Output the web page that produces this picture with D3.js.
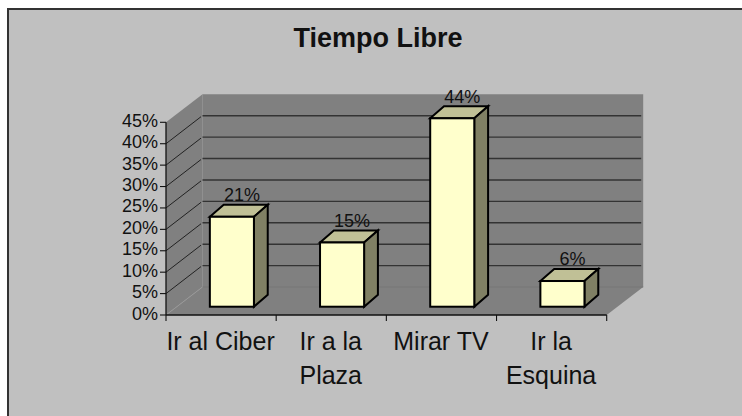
<!DOCTYPE html>
<html><head><meta charset="utf-8">
<script src="https://cdn.jsdelivr.net/npm/d3@7"></script>
<style>html,body{margin:0;padding:0;background:#fff}svg{display:block}text{font-family:"Liberation Sans",Arial,sans-serif;fill:#111}</style>
</head><body><svg id="c" width="742" height="416"></svg>
<script>
const categories=[["Ir al Ciber"],["Ir a la","Plaza"],["Mirar TV"],["Ir la","Esquina"]];
const values=[21,15,44,6];
const valueLabels=["21%","15%","44%","6%"];
const yTicks=[0,5,10,15,20,25,30,35,40,45];
const title="Tiempo Libre";

const svg=d3.select("#c");
const x0=166,x1=606.7,yB=315,yT=122.3,dx=36.5,dy=-28;
const y=d3.scaleLinear().domain([0,45]).range([yB,yT]);
const x=d3.scaleBand().domain(d3.range(categories.length)).range([x0,x1]).paddingInner(0).paddingOuter(0);
const line=d3.line();
const dark="#111",grid="#333";

svg.append("rect").attr("x",8).attr("y",9).attr("width",734).attr("height",407).attr("fill","#c0c0c0");
svg.append("path").attr("d",line([[8,416],[8,9],[742,9]])).attr("fill","none").attr("stroke","#333").attr("stroke-width",2);
svg.append("text").attr("x",378).attr("y",46.5).attr("text-anchor","middle")
  .style("font-size","27px").style("font-weight","bold").text(title);

// walls and floor
svg.append("path").attr("d",line([[x0,yB],[x0,yT],[x0+dx,yT+dy],[x0+dx,yB+dy]])+"Z").attr("fill","#808080");
svg.append("path").attr("d",line([[x0+dx,yT+dy],[x1+dx,yT+dy],[x1+dx,yB+dy],[x0+dx,yB+dy]])+"Z").attr("fill","#808080");
svg.append("path").attr("d",line([[x0,yB],[x0+dx,yB+dy],[x1+dx,yB+dy],[x1,yB]])+"Z").attr("fill","#808080");
svg.append("path").attr("d",line([[x0+dx,yB+dy],[x1+dx,yB+dy]])).attr("fill","none").attr("stroke","#777").attr("stroke-width",1);
svg.append("path").attr("d",line([[x0,yB],[x0+dx,yB+dy]])).attr("fill","none").attr("stroke","#999").attr("stroke-width",1);

// gridlines
yTicks.slice(1,-1).forEach(t=>{
  const yy=y(t);
  svg.append("path").attr("d",line([[x0,yy],[x0+dx-1.5,yy+dy+1]]))
    .attr("fill","none").attr("stroke","#222").attr("stroke-width",1);
  svg.append("path").attr("d",line([[x0+dx,yy+dy],[x1+dx-2,yy+dy]]))
    .attr("fill","none").attr("stroke",grid).attr("stroke-width",1.4);
});

// axes
const axL=svg.append("g").attr("transform",`translate(${x0},0)`);
axL.append("path").attr("d",line([[0,yT],[0,yB]])).attr("stroke",dark).attr("stroke-width",1.3).attr("fill","none");
yTicks.forEach(t=>{
  axL.append("path").attr("d",line([[-6,y(t)],[0,y(t)]])).attr("stroke",dark).attr("stroke-width",1.1);
  axL.append("text").attr("x",-8).attr("y",y(t)+4.5).attr("text-anchor","end").style("font-size","18px").text(t+"%");
});
svg.append("path").attr("d",line([[x0,yB],[x1,yB]])).attr("stroke",dark).attr("stroke-width",1.3);
d3.range(categories.length+1).forEach(i=>{
  const xx=x0+x.step()*i;
  svg.append("path").attr("d",line([[xx,yB],[xx,yB+6]])).attr("stroke",dark).attr("stroke-width",1.1);
});
categories.forEach((c,i)=>{
  const t=svg.append("text").attr("text-anchor","middle").style("font-size","25px");
  c.forEach((s,j)=>t.append("tspan").attr("x",x(i)+x.bandwidth()/2-0.5).attr("y",349.5+j*34).text(s));
});

// bars
const bw=x.bandwidth()*0.4, fOff=0.296, fDepth=0.43;
values.forEach((v,i)=>{
  const left=x(i)+x.bandwidth()/2-bw/2+dx*fOff;
  const base=y(0)+dy*fOff;
  const top=base-(y(0)-y(v));
  const sx=dx*fDepth*0.88, sy=dy*fDepth;
  const g=svg.append("g").attr("stroke","#000").attr("stroke-width",2).attr("stroke-linejoin","miter");
  g.append("path").attr("d",line([[left,top],[left+sx,top+sy],[left+bw+sx,top+sy],[left+bw,top]])+"Z").attr("fill","#c0c096");
  g.append("path").attr("d",line([[left+bw,top],[left+bw+sx,top+sy],[left+bw+sx,base+sy],[left+bw,base]])+"Z").attr("fill","#808064");
  g.append("rect").attr("x",left).attr("y",top).attr("width",bw).attr("height",base-top).attr("fill","#ffffcc");
  svg.append("text").attr("x",left+bw/2+10).attr("y",top+sy-3.5).attr("text-anchor","middle").style("font-size","18px").text(valueLabels[i]);
});
</script></body></html>
